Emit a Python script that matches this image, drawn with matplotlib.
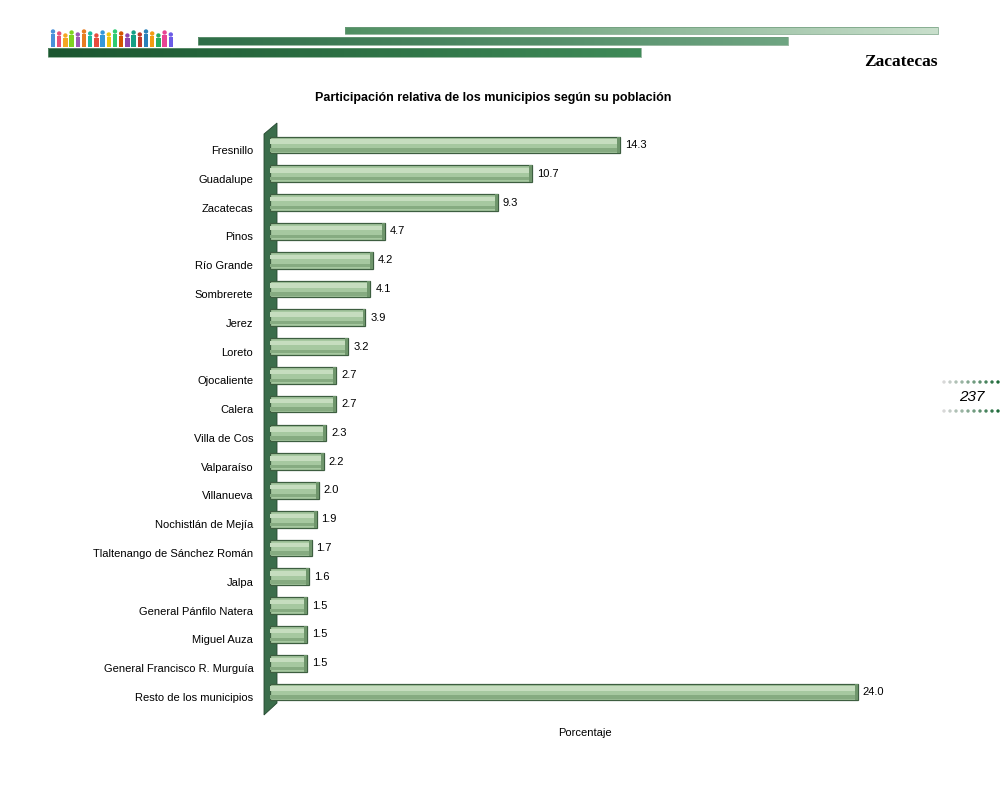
import matplotlib
matplotlib.use("Agg")
import matplotlib.pyplot as plt
import numpy as np
from matplotlib.patches import Polygon, Rectangle, Circle
from matplotlib.colors import LinearSegmentedColormap
from matplotlib.transforms import ScaledTranslation

municipios = ["Fresnillo", "Guadalupe", "Zacatecas", "Pinos", "Río Grande", "Sombrerete",
              "Jerez", "Loreto", "Ojocaliente", "Calera", "Villa de Cos", "Valparaíso",
              "Villanueva", "Nochistlán de Mejía", "Tlaltenango de Sánchez Román", "Jalpa",
              "General Pánfilo Natera", "Miguel Auza", "General Francisco R. Murguía",
              "Resto de los municipios"]
porcentaje = [14.3, 10.7, 9.3, 4.7, 4.2, 4.1, 3.9, 3.2, 2.7, 2.7, 2.3, 2.2, 2.0, 1.9,
              1.7, 1.6, 1.5, 1.5, 1.5, 24.0]
titulo = "Participación relativa de los municipios según su población"
xlabel = "Porcentaje"

plt.rcParams['font.family'] = ['Liberation Sans', 'DejaVu Sans']

W, H = 1000, 789
fig = plt.figure(figsize=(W / 100, H / 100), dpi=100)

# decoration layer in pixel coordinates
deco = fig.add_axes([0, 0, 1, 1], zorder=-5)
deco.set_xlim(0, W)
deco.set_ylim(H, 0)
deco.axis("off")

def grad_bar(x0, x1, y0, y1, c0, c1):
    cm = LinearSegmentedColormap.from_list("g", [c0, c1])
    g = np.linspace(0, 1, 256).reshape(1, -1)
    deco.imshow(g, cmap=cm, extent=(x0, x1, y1, y0), aspect="auto", interpolation="bilinear")
    deco.add_patch(Rectangle((x0, y0), x1 - x0, y1 - y0, fill=False, ec="#6f9c7c", lw=0.5))

grad_bar(345, 938, 27, 34, "#4f8f62", "#c9dfcc")
grad_bar(198, 788, 37, 45, "#2f6e48", "#6fa582")
grad_bar(48, 641, 48, 57, "#1b5630", "#3f8a58")

# people icon
people_colors = ["#4a90d9", "#e94e77", "#f5a623", "#7ed321", "#9b59b6", "#e67e22", "#1abc9c",
                 "#e74c3c", "#3498db", "#f1c40f", "#2ecc71", "#d35400", "#8e44ad", "#16a085",
                 "#c0392b", "#2980b9", "#f39c12", "#27ae60", "#e84393", "#6c5ce7"]
for i, c in enumerate(people_colors):
    px = 53 + i * 6.2
    top = 29 + (i * 7 % 5)
    deco.add_patch(Rectangle((px - 2.2, top + 5), 4.4, 47 - top - 5, color=c, lw=0))
    deco.add_patch(Circle((px, top + 2.5), 2.2, color=c, lw=0))

fig.text(938 / W, 1 - 62 / H, "Zacatecas", ha="right", va="center",
         fontsize=12.5, fontweight="bold", family="Liberation Serif")

# page number with dotted lines
for yy in (382, 411):
    xs = np.linspace(944, 998, 10)
    cols = [LinearSegmentedColormap.from_list("d", ["#d8d8d8", "#1f6b3a"])(t) for t in np.linspace(0, 1, 10)]
    deco.scatter(xs, [yy] * 10, s=6, c=cols, lw=0)
fig.text(972 / W, 1 - 397 / H, "237", ha="center", va="center", fontsize=11, style="italic")

fig.text(493 / W, 1 - 98 / H, titulo, ha="center", va="center", fontsize=9, fontweight="bold")

# main axes
ax = fig.add_axes([270 / W, 1 - 712 / H, 612 / W, 587 / H])
n = len(municipios)
y = np.arange(n)
ax.set_xlim(0, 25)
ax.set_ylim(n - 1 + 0.695, -0.695)

vals = np.array(porcentaje)
bh = 0.58
ax.barh(y, vals, height=bh, color="#a6c8a0", edgecolor="#3d5e40", lw=0.9, zorder=3)
ax.barh(y - bh * 0.2, vals, height=bh * 0.26, color="#c6ddbf", lw=0, zorder=4)
ax.barh(y + bh * 0.3, vals, height=bh * 0.2, color="#86ab81", lw=0, zorder=4)
ax.barh(y, np.full(n, 0.12), left=vals - 0.12, height=bh, color="#6f966c", lw=0, zorder=5)

for yi, v in zip(y, vals):
    ax.text(v + 0.2, yi, f"{v:.1f}", va="center", ha="left", fontsize=8, zorder=6)

# wall on the left
wall = Polygon([(264 / W, 1 - 134 / H), (277 / W, 1 - 123 / H), (277 / W, 1 - 703 / H),
                (264 / W, 1 - 715 / H)], closed=True, transform=fig.transFigure,
               facecolor="#3b6d4b", edgecolor="#24472f", lw=0.6, clip_on=False, zorder=1)
ax.add_patch(wall)

ax.set_yticks(y)
ax.set_yticklabels(municipios, fontsize=8)
ax.tick_params(axis="y", length=0, pad=12)
shift = ScaledTranslation(0, -5 / 100, fig.dpi_scale_trans)
for lab in ax.get_yticklabels():
    lab.set_transform(lab.get_transform() + shift)
ax.set_xticks([])
for s in ax.spines.values():
    s.set_visible(False)
ax.patch.set_alpha(0)

fig.text(585 / W, 1 - 733 / H, xlabel, ha="center", va="center", fontsize=8)

fig.savefig("out.png", dpi=100)
